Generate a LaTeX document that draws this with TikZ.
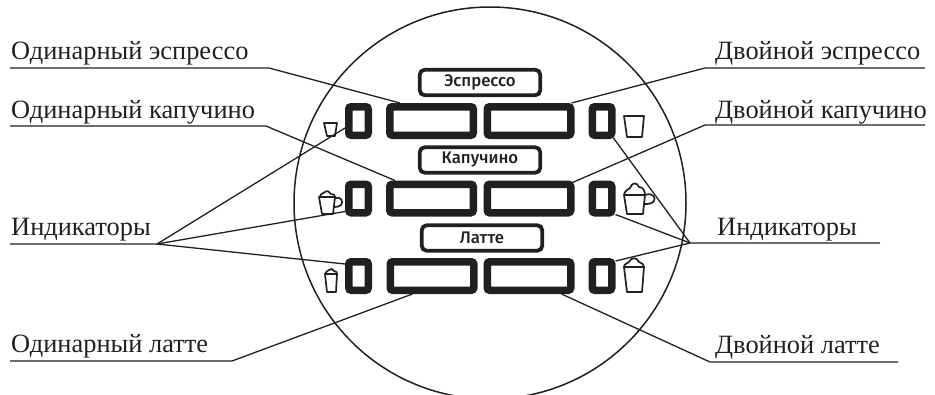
\documentclass[tikz,border=0pt]{standalone}
\usepackage{fontspec}
\setmainfont{Liberation Serif}
\newfontfamily\panelfont{Fira Sans Medium}
\definecolor{ink}{HTML}{231F20}
\tikzset{
	caption/.style={anchor=base west,inner sep=0pt,text=ink,font=\fontsize{26.4}{30}\selectfont},
	leader/.style={draw=ink,line width=1.3pt},
	wide/.style={draw=ink,line width=7.5pt,rounded corners=2.5pt,minimum width=83.5pt,minimum height=28.5pt,inner sep=0pt},
	lamp/.style={draw=ink,line width=7.5pt,rounded corners=2.5pt,minimum width=19.5pt,minimum height=28.5pt,inner sep=0pt},
	tag/.style={draw=ink,line width=3.8pt,rounded corners=5pt,minimum width=120.5pt,minimum height=25.5pt,inner sep=0pt,text=ink,font=\panelfont\fontsize{16.8}{18}\selectfont},
	cupline/.style={draw=ink,line width=1.7pt,line join=round}
}
\begin{document}
\begin{tikzpicture}[x=1pt,y=-1pt]
	\useasboundingbox (0,0) rectangle (935,394);
	\clip (0,0) rectangle (935,394);

	\draw[ink,line width=1.5pt] (490,203) circle (196);

	\node[tag] (tagEsp) at (480,82.5) {Эспрессо};
	\node[tag] (tagKap) at (480,160) {Капучино};
	\node[tag] (tagLat) at (482,238) {Латте};

	\node[wide] (espOne) at (431.5,121) {};
	\node[wide] (espTwo) at (529,121) {};
	\node[wide] (kapOne) at (431.5,198.5) {};
	\node[wide] (kapTwo) at (529,198.5) {};
	\node[wide] (latOne) at (432,276) {};
	\node[wide] (latTwo) at (529,276) {};

	\node[lamp] (espLampL) at (358.5,121) {};
	\node[lamp] (kapLampL) at (358.5,198.5) {};
	\node[lamp] (latLampL) at (358.5,276) {};
	\node[lamp] (espLampR) at (602,121) {};
	\node[lamp] (kapLampR) at (602,198.5) {};
	\node[lamp] (latLampR) at (602,276) {};

	% small cups
	\draw[cupline] (324,123) -- (337,123) -- (335,136) -- (327,136) -- cycle;
	\draw[cupline] (624,116) -- (644,116) -- (642,137) -- (627,137) -- cycle;
	% cups with handle
	\draw[cupline] (319,197) -- (335,197) -- (333,214) -- (322,214) -- cycle;
	\draw[cupline] (320,197) .. controls (320,193) and (324,194) .. (325,192) .. controls (327,190) and (330,192) .. (331,194) .. controls (334,194) and (335,195) .. (335,197);
	\draw[cupline] (335,198) .. controls (341,196) and (344,202) .. (341,205) .. controls (339,207) and (336,207) .. (334,207);
	\draw[cupline] (624,195) -- (645,195) -- (643,214) -- (627,214) -- cycle;
	\draw[cupline] (624,195) .. controls (625,190) and (628,190) .. (630,188) .. controls (632,182) and (637,182) .. (639,187) .. controls (643,187) and (645,191) .. (645,195);
	\draw[cupline] (645,195) .. controls (653,192) and (656,198) .. (654,201) .. controls (652,204) and (648,204) .. (644,204);
	% tall cups
	\draw[cupline] (325,274) -- (337,274) -- (336,292) -- (327,292) -- cycle;
	\draw[cupline] (325,274) .. controls (325,271) and (328,272) .. (329,270) .. controls (331,268) and (333,269) .. (334,271) .. controls (336,271) and (337,272) .. (337,274);
	\draw[cupline] (624,267) -- (644,267) -- (642,292) -- (627,292) -- cycle;
	\draw[cupline] (624,267) .. controls (624,263) and (628,264) .. (629,262) .. controls (631,257) and (637,257) .. (639,262) .. controls (642,263) and (644,264) .. (644,267);

	% left side
	\node[caption] (capEspOne) at (11,59) {Одинарный эспрессо};
	\node[caption] (capKapOne) at (11,118) {Одинарный капучино};
	\node[caption] (capLampL) at (11,235) {Индикаторы};
	\node[caption] (capLatOne) at (11,352) {Одинарный латте};
	\coordinate (endEspOne) at (10,68);
	\coordinate (kneeEspOne) at (269,68);
	\coordinate (endKapOne) at (10,126);
	\coordinate (kneeKapOne) at (266,126);
	\coordinate (endLampL) at (10,244);
	\coordinate (kneeLampL) at (157,244);
	\coordinate (endLatOne) at (10,361);
	\coordinate (kneeLatOne) at (232,361);
	\draw[leader] (endEspOne) -- (kneeEspOne) -- ([xshift=14pt]espOne.north west);
	\draw[leader] (endKapOne) -- (kneeKapOne) -- ([xshift=9pt]kapOne.north west);
	\draw[leader] (endLampL) -- (kneeLampL) -- ([yshift=11pt]espLampL.south west);
	\draw[leader] (kneeLampL) -- ([yshift=5pt]kapLampL.south west);
	\draw[leader] (kneeLampL) -- ([yshift=-6pt]latLampL.north west);
	\draw[leader] (endLatOne) -- (kneeLatOne) -- ([xshift=26pt]latOne.south west);

	% right side
	\node[caption] (capEspTwo) at (715,59) {Двойной эспрессо};
	\node[caption] (capKapTwo) at (715,118) {Двойной капучино};
	\node[caption] (capLampR) at (717,235) {Индикаторы};
	\node[caption] (capLatTwo) at (715,353) {Двойной латте};
	\coordinate (endEspTwo) at (925,68);
	\coordinate (kneeEspTwo) at (705,68);
	\coordinate (endKapTwo) at (925,125);
	\coordinate (kneeKapTwo) at (705,125);
	\coordinate (endLampR) at (880,243);
	\coordinate (kneeLampR) at (690,243);
	\coordinate (endLatTwo) at (898,362);
	\coordinate (kneeLatTwo) at (710,362);
	\draw[leader] (endEspTwo) -- (kneeEspTwo) -- ([xshift=-3pt]espTwo.north east);
	\draw[leader] (endKapTwo) -- (kneeKapTwo) -- ([shift={(-2pt,-2pt)}]kapTwo.north east);
	\draw[leader] (endLampR) -- (kneeLampR) -- ([shift={(-2pt,1pt)}]espLampR.south east);
	\draw[leader] (kneeLampR) -- ([yshift=2pt]kapLampR.south east);
	\draw[leader] (kneeLampR) -- ([yshift=-3pt]latLampR.north east);
	\draw[leader] (endLatTwo) -- (kneeLatTwo) -- ([xshift=-13pt]latTwo.south east);

\end{tikzpicture}
\end{document}
